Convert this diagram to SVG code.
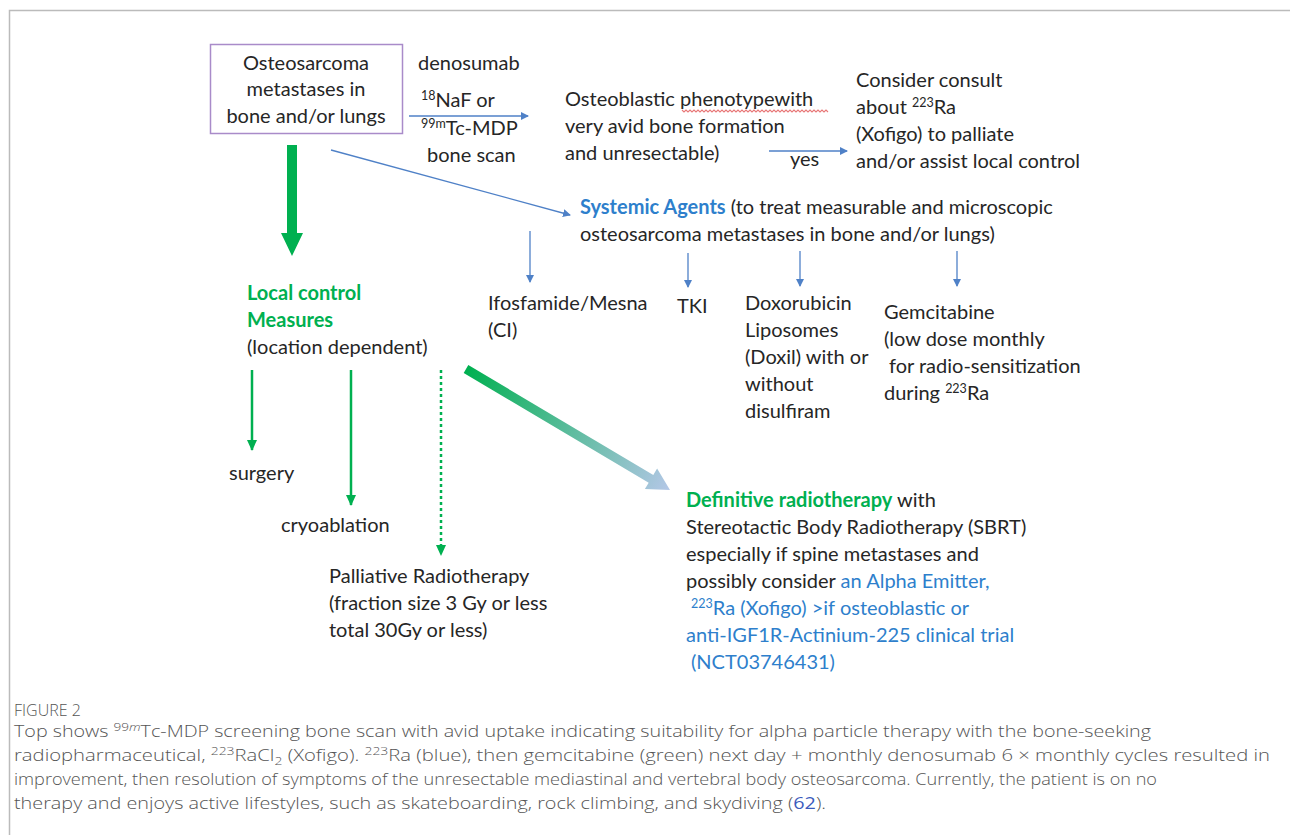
<svg xmlns="http://www.w3.org/2000/svg" width="1290" height="835" viewBox="0 0 1290 835">
<defs>
<style>
.t{font-family:Lato,"Open Sans","Liberation Sans",sans-serif;font-size:20px;fill:#262626}
.g{fill:#00b050;font-weight:bold}
.b{fill:#2e7fcc}
.bb{fill:#2e7fcc;font-weight:bold}
.cap{font-family:"Open Sans","Liberation Sans",sans-serif;font-size:16px;font-weight:300;fill:#555}
.lnk{fill:#3b5bbd;font-weight:400}
.thin{stroke:#4f81c7;stroke-width:1.3;fill:none}
.grn{stroke:#00b050;stroke-width:2.5;fill:none}
</style>
<marker id="ab" markerUnits="userSpaceOnUse" markerWidth="10" markerHeight="10" refX="7" refY="4" orient="auto">
<path d="M0,0 L8,4 L0,8 z" fill="#4f81c7"/>
</marker>
<marker id="ag" markerUnits="userSpaceOnUse" markerWidth="12" markerHeight="12" refX="10" refY="5" orient="auto">
<path d="M0,0 L11,5 L0,10 z" fill="#00b050"/>
</marker>
<linearGradient id="grad" gradientUnits="userSpaceOnUse" x1="466" y1="369" x2="670" y2="490">
<stop offset="0" stop-color="#00b050"/>
<stop offset="1" stop-color="#b4c7e7"/>
</linearGradient>
</defs>
<rect width="1290" height="835" fill="#fff"/>
<path d="M9.5,835 V10.5 H1290" fill="none" stroke="#bbb" stroke-width="1.5"/>

<g id="connectors">
<line class="thin" x1="409" y1="116" x2="528" y2="116" marker-end="url(#ab)"/>
<line class="thin" x1="769" y1="151" x2="847" y2="151" marker-end="url(#ab)"/>
<line class="thin" x1="331" y1="150" x2="570" y2="215" marker-end="url(#ab)"/>
<line class="thin" x1="530" y1="231" x2="530" y2="282" marker-end="url(#ab)"/>
<line class="thin" x1="688" y1="253" x2="688" y2="287" marker-end="url(#ab)"/>
<line class="thin" x1="800" y1="251" x2="800" y2="286" marker-end="url(#ab)"/>
<line class="thin" x1="957" y1="251" x2="957" y2="286" marker-end="url(#ab)"/>
<polygon points="287,145 297,145 297,233 303,233 292,256 281,233 287,233" fill="#00b050"/>
<line class="grn" x1="252" y1="370" x2="252" y2="450" marker-end="url(#ag)"/>
<line class="grn" x1="351" y1="370" x2="351" y2="505" marker-end="url(#ag)"/>
<line class="grn" x1="441" y1="370" x2="441" y2="546" stroke-dasharray="3 3" stroke-width="3"/>
<path d="M436,545 L446,545 L441,556 z" fill="#00b050"/>
<polygon points="463.7,372.9 648.7,482.7 644.9,489.1 670,490 657.1,468.5 653.3,474.9 468.3,365.1" fill="url(#grad)"/>
</g>

<g id="n-start">
<rect x="210.5" y="44.5" width="192" height="89" fill="none" stroke="#a98bc9" stroke-width="1.5"/>
<text class="t" text-anchor="middle" x="306" y="70">Osteosarcoma</text>
<text class="t" text-anchor="middle" x="306" y="96">metastases in</text>
<text class="t" text-anchor="middle" x="306" y="123">bone and/or lungs</text>
</g>

<g id="n-scan">
<text class="t" x="418" y="70">denosumab</text>
<text class="t" x="421" y="107"><tspan font-size="12.5" dy="-7">18</tspan><tspan dy="7">NaF or</tspan></text>
<text class="t" x="421" y="135"><tspan font-size="12.5" dy="-7">99m</tspan><tspan dy="7">Tc-MDP</tspan></text>
<text class="t" x="427" y="162">bone scan</text>
</g>

<g id="n-osteoblastic">
<text class="t" x="565" y="106">Osteoblastic phenotypewith</text>
<path d="M682,110 l2,2 l2,-2 l2,2 l2,-2 l2,2 l2,-2 l2,2 l2,-2 l2,2 l2,-2 l2,2 l2,-2 l2,2 l2,-2 l2,2 l2,-2 l2,2 l2,-2 l2,2 l2,-2 l2,2 l2,-2 l2,2 l2,-2 l2,2 l2,-2 l2,2 l2,-2 l2,2 l2,-2 l2,2 l2,-2 l2,2 l2,-2 l2,2 l2,-2 l2,2 l2,-2 l2,2 l2,-2 l2,2 l2,-2 l2,2 l2,-2 l2,2 l2,-2 l2,2 l2,-2 l2,2 l2,-2 l2,2 l2,-2 l2,2 l2,-2 l2,2 l2,-2 l2,2 l2,-2 l2,2 l2,-2 l2,2 l2,-2 l2,2 l2,-2 l2,2 l2,-2 l2,2 l2,-2 l2,2 l2,-2 l2,2 l2,-2 l2,2" fill="none" stroke="#e87878" stroke-width="1.1"/>
<text class="t" x="565" y="133">very avid bone formation</text>
<text class="t" x="565" y="160">and unresectable)</text>
<text class="t" x="790" y="166">yes</text>
</g>

<g id="n-consult">
<text class="t" x="856" y="87">Consider consult</text>
<text class="t" x="856" y="114">about  <tspan font-size="12.5" dy="-7">223</tspan><tspan dy="7">Ra</tspan></text>
<text class="t" x="856" y="141">(Xofigo) to palliate</text>
<text class="t" x="856" y="168">and/or assist local control</text>
</g>

<g id="n-systemic">
<text class="t" x="580" y="214"><tspan class="bb">Systemic Agents</tspan> (to treat measurable and microscopic</text>
<text class="t" x="580" y="241">osteosarcoma metastases in bone and/or lungs)</text>
</g>

<g id="n-ifos">
<text class="t" x="488" y="310">Ifosfamide/Mesna</text>
<text class="t" x="488" y="337">(CI)</text>
</g>
<g id="n-tki">
<text class="t" x="677" y="313">TKI</text>
</g>
<g id="n-doxil">
<text class="t" x="745" y="310">Doxorubicin</text>
<text class="t" x="745" y="337">Liposomes</text>
<text class="t" x="745" y="364">(Doxil) with or</text>
<text class="t" x="745" y="391">without</text>
<text class="t" x="745" y="418">disulfiram</text>
</g>
<g id="n-gem">
<text class="t" x="884" y="319">Gemcitabine</text>
<text class="t" x="884" y="346">(low dose monthly</text>
<text class="t" x="889" y="373">for radio-sensitization</text>
<text class="t" x="884" y="400">during <tspan font-size="12.5" dy="-7">223</tspan><tspan dy="7">Ra</tspan></text>
</g>

<g id="n-local">
<text class="t g" x="247" y="300">Local control</text>
<text class="t g" x="247" y="327">Measures</text>
<text class="t" x="247" y="354">(location dependent)</text>
</g>
<g id="n-surgery"><text class="t" x="229" y="480">surgery</text></g>
<g id="n-cryo"><text class="t" x="281" y="532">cryoablation</text></g>
<g id="n-palliative">
<text class="t" x="329" y="583">Palliative Radiotherapy</text>
<text class="t" x="329" y="610">(fraction size 3 Gy or less</text>
<text class="t" x="329" y="637">total 30Gy or less)</text>
</g>

<g id="n-definitive">
<text class="t" x="686" y="507"><tspan class="g">Definitive radiotherapy</tspan> with</text>
<text class="t" x="686" y="534">Stereotactic Body Radiotherapy (SBRT)</text>
<text class="t" x="686" y="561">especially if spine metastases and</text>
<text class="t" x="686" y="588">possibly consider <tspan class="b">an Alpha Emitter,</tspan></text>
<text class="t b" x="691" y="615"><tspan font-size="12.5" dy="-7">223</tspan><tspan dy="7">Ra (Xofigo) &gt;if osteoblastic or</tspan></text>
<text class="t b" x="686" y="642">anti-IGF1R-Actinium-225 clinical trial</text>
<text class="t b" x="691" y="669">(NCT03746431)</text>
</g>

<g id="caption">
<text class="cap" x="14" y="716" font-size="12">FIGURE 2</text>
<text class="cap" x="14" y="737" textLength="1137" lengthAdjust="spacingAndGlyphs">Top shows <tspan font-size="11" dy="-6">99<tspan font-style="italic">m</tspan></tspan><tspan dy="6">Tc-MDP screening bone scan with avid uptake indicating suitability for alpha particle therapy with the bone-seeking</tspan></text>
<text class="cap" x="14" y="761" textLength="1256" lengthAdjust="spacingAndGlyphs">radiopharmaceutical, <tspan font-size="11" dy="-6">223</tspan><tspan dy="6">RaCl</tspan><tspan font-size="11" dy="4">2</tspan><tspan dy="-4"> (Xofigo). </tspan><tspan font-size="11" dy="-6">223</tspan><tspan dy="6">Ra (blue), then gemcitabine (green) next day + monthly denosumab 6 × monthly cycles resulted in</tspan></text>
<text class="cap" x="14" y="785" textLength="1143" lengthAdjust="spacingAndGlyphs">improvement, then resolution of symptoms of the unresectable mediastinal and vertebral body osteosarcoma. Currently, the patient is on no</text>
<text class="cap" x="14" y="809" textLength="812" lengthAdjust="spacingAndGlyphs">therapy and enjoys active lifestyles, such as skateboarding, rock climbing, and skydiving (<tspan class="lnk">62</tspan>).</text>
</g>
</svg>
